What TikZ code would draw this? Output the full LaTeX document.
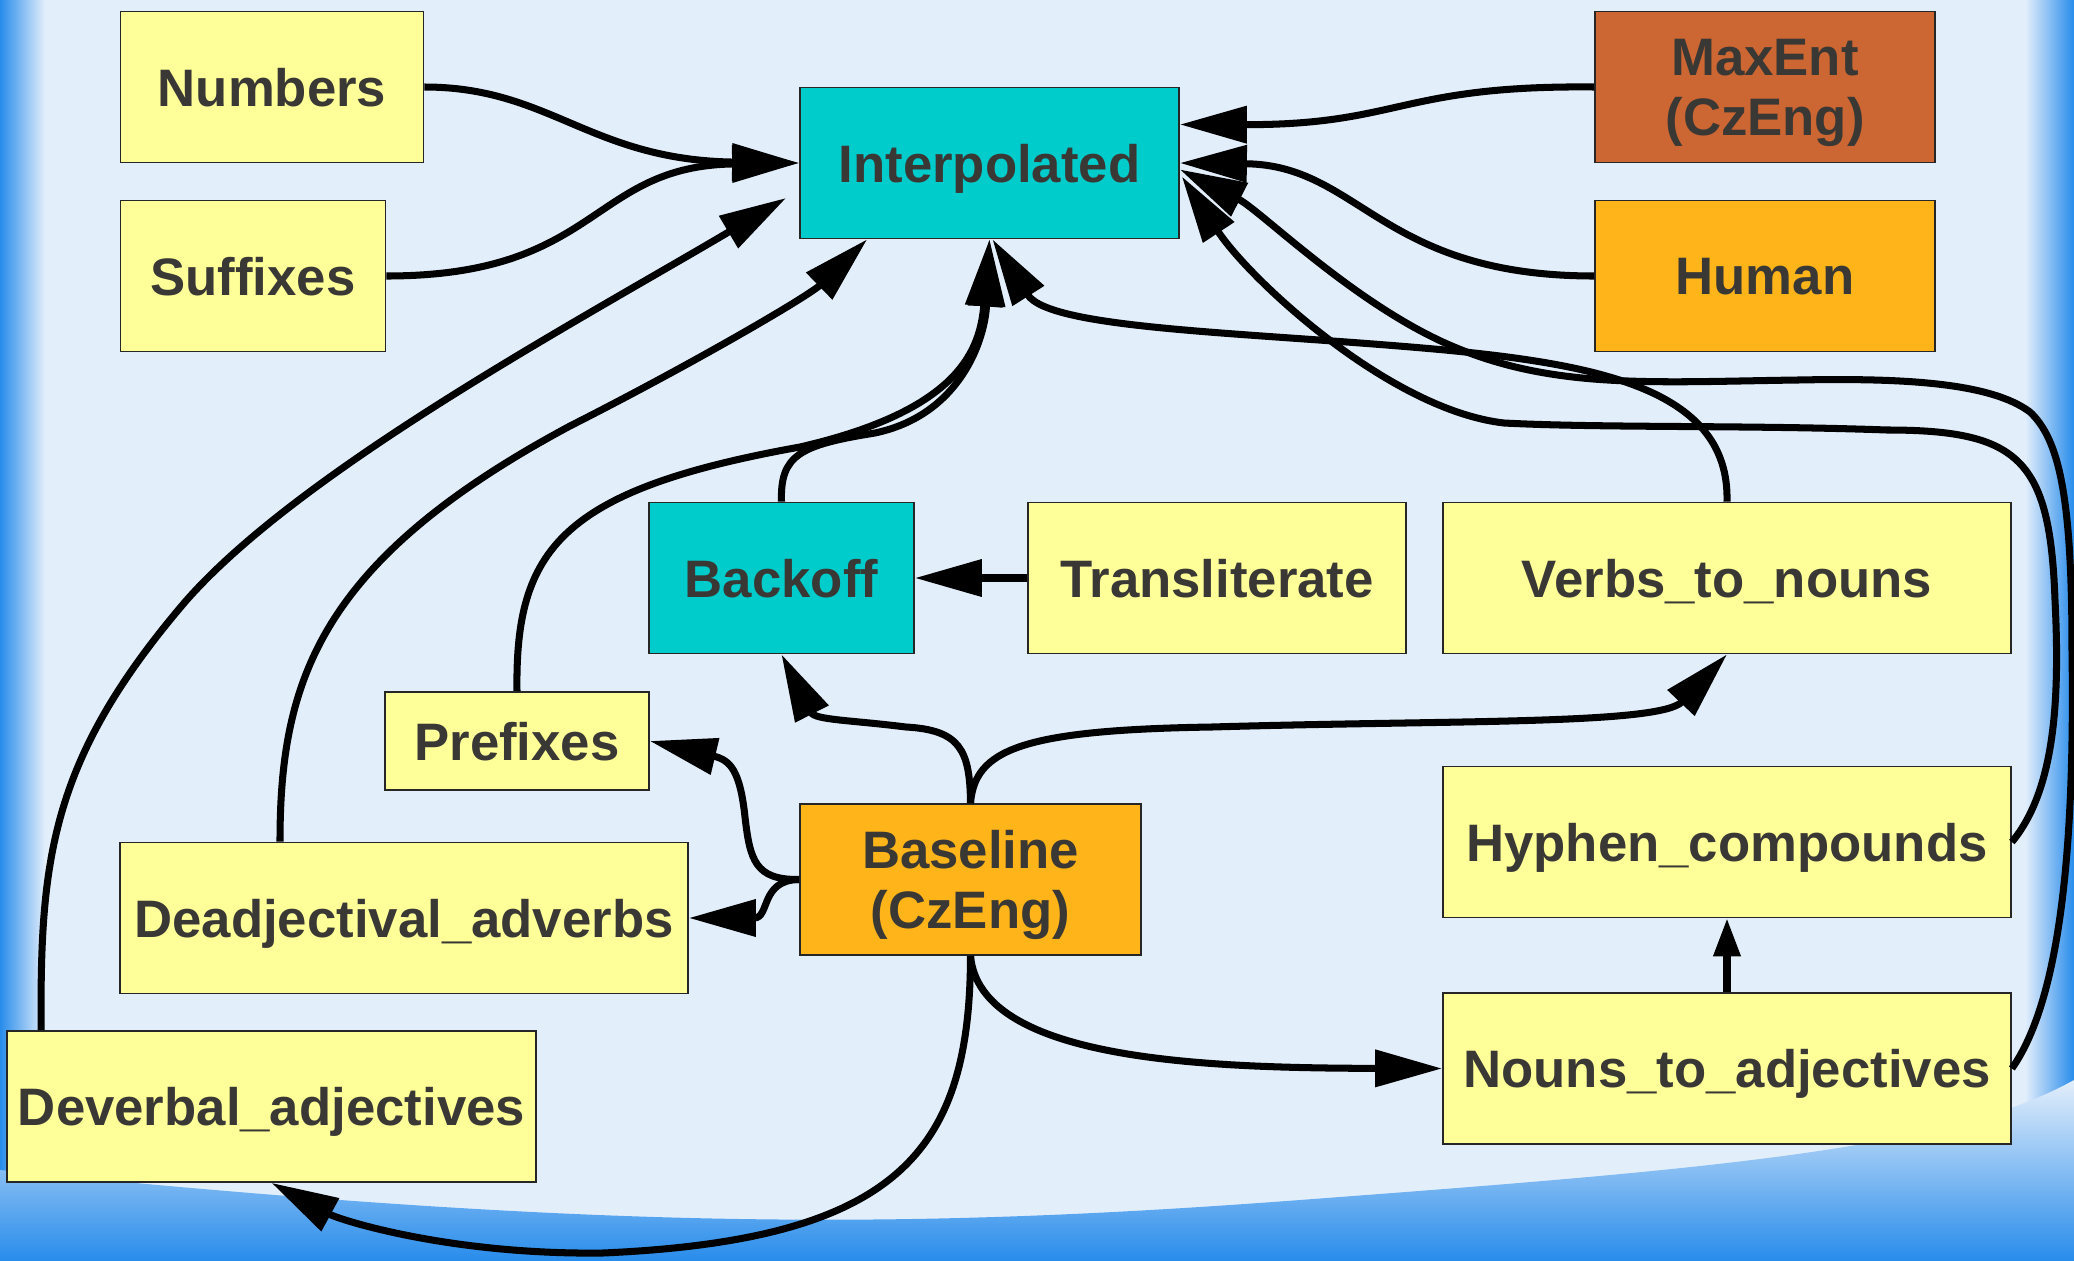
\documentclass[tikz,border=0pt]{standalone}
\usepackage{fontspec}
\setmainfont{Liberation Sans}
\usetikzlibrary{arrows.meta}

\definecolor{bgblue}{RGB}{227,238,251}
\definecolor{edgeblue}{RGB}{40,140,235}
\definecolor{boxyellow}{RGB}{255,255,153}
\definecolor{boxcyan}{RGB}{0,204,204}
\definecolor{boxbrown}{RGB}{204,102,51}
\definecolor{boxorange}{RGB}{255,180,25}
\definecolor{labelgray}{RGB}{58,56,52}

\begin{document}
\begin{tikzpicture}[
    box/.style={draw=black!85, line width=0.5pt, text=labelgray, inner sep=0pt, text depth=0pt,
        font=\fontsize{15}{17}\selectfont\bfseries, align=center, minimum height=1.51cm},
    flow/.style={line width=2pt, -{Triangle[length=0.67cm, width=0.36cm]}},
]
    \useasboundingbox (0,0) rectangle (20.74,-12.61);
    \fill[bgblue] (0,0) rectangle (20.74,-12.61);
    \shade[left color=edgeblue, right color=bgblue] (0,0) rectangle (0.45,-12.61);
    \shade[left color=bgblue, right color=edgeblue] (20.25,0) rectangle (20.74,-12.61);
    \shade[top color=bgblue, middle color=bgblue, bottom color=edgeblue] (0,-11.7) .. controls (6,-12.3) and (9,-12.3) .. (13,-12.0)
        .. controls (17,-11.7) and (19.5,-11.5) .. (20.74,-10.8) -- (20.74,-12.61) -- (0,-12.61) -- cycle;

    \node[box, fill=boxyellow, minimum width=3.03cm] (num) at (2.72,-0.87) {Numbers};
    \node[box, fill=boxyellow, minimum width=2.65cm] (suf) at (2.53,-2.76) {Suffixes};
    \node[box, fill=boxcyan, minimum width=3.79cm] (interp) at (9.895,-1.63) {Interpolated};
    \node[box, fill=boxbrown, minimum width=3.40cm] (maxent) at (17.65,-0.87) {MaxEnt\\(CzEng)};
    \node[box, fill=boxorange, minimum width=3.40cm] (human) at (17.65,-2.76) {Human};
    \node[box, fill=boxcyan, minimum width=2.65cm] (backoff) at (7.815,-5.78) {Backoff};
    \node[box, fill=boxyellow, minimum width=3.78cm] (translit) at (12.17,-5.78) {Transliterate};
    \node[box, fill=boxyellow, minimum width=5.68cm] (verbs) at (17.27,-5.78) {Verbs\_to\_nouns};
    \node[box, fill=boxyellow, minimum width=2.64cm, minimum height=0.98cm] (pref) at (5.17,-7.41) {Prefixes};
    \node[box, fill=boxorange, minimum width=3.41cm] (base) at (9.705,-8.795) {Baseline\\(CzEng)};
    \node[box, fill=boxyellow, minimum width=5.68cm] (hyph) at (17.27,-8.42) {Hyphen\_compounds};
    \node[box, fill=boxyellow, minimum width=5.68cm] (dadv) at (4.04,-9.18) {Deadjectival\_adverbs};
    \node[box, fill=boxyellow, minimum width=5.29cm] (dverb) at (2.715,-11.065) {Deverbal\_adjectives};
    \node[box, fill=boxyellow, minimum width=5.68cm] (nouns) at (17.27,-10.685) {Nouns\_to\_adjectives};

    % into Interpolated
    \draw[flow] (num.east) .. controls (5.5,-0.87) and (5.9,-1.6) .. (interp.west);
    \draw[flow] (suf.east) .. controls (6.0,-2.76) and (5.9,-1.66) .. (interp.west);
    \draw[flow] ([xshift=0.35cm]dverb.north west) .. controls (0.40,-8.6) and (0.5,-7.6) .. (1.85,-6.02)
        .. controls (3.0,-4.7) and (5.8,-3.2) .. ([shift={(-0.13,-0.35)}]interp.west);
    \draw[flow] ([xshift=-1.24cm]dadv.north) .. controls (2.8,-6.8) and (3.2,-5.6) .. (5.7,-4.26)
        .. controls (7.0,-3.6) and (8.1,-2.95) .. ([xshift=0.68cm]interp.south west);
    \draw[flow] (pref.north) .. controls (5.15,-5.5) and (5.6,-4.9) .. (8.0,-4.47)
        .. controls (9.6,-4.1) and (9.8,-3.5) .. (interp.south);
    \draw[flow] (backoff.north) .. controls (7.8,-4.55) and (8.0,-4.45) .. (8.75,-4.33)
        .. controls (9.6,-4.15) and (9.85,-3.4) .. (interp.south);
    \draw[flow] (verbs.north) .. controls (17.3,-3.9) and (16.0,-3.65) .. (14.45,-3.50)
        .. controls (12.5,-3.32) and (10.5,-3.3) .. ([xshift=0.03cm]interp.south);
    \draw[flow] (maxent.west) .. controls (14.0,-0.85) and (14.0,-1.25) .. ([yshift=0.385cm]interp.east);
    \draw[flow] (human.west) .. controls (13.8,-2.76) and (13.6,-1.65) .. (interp.east);
    \draw[flow] (nouns.east) .. controls (20.6,-10.0) and (20.75,-8.5) .. (20.72,-6.5)
        .. controls (20.72,-5.0) and (20.6,-4.4) .. (20.3,-4.12)
        .. controls (19.9,-3.82) and (19.0,-3.78) .. (17.98,-3.80)
        .. controls (16.5,-3.82) and (15.5,-3.9) .. (14.45,-3.43)
        .. controls (13.5,-3.0) and (12.6,-2.1) .. ([yshift=-0.065cm]interp.east);
    \draw[flow] (hyph.east) .. controls (20.55,-7.9) and (20.6,-7.0) .. (20.55,-6.0)
        .. controls (20.5,-4.6) and (20.2,-4.3) .. (18.87,-4.30)
        .. controls (17.5,-4.25) and (16.0,-4.28) .. (15.04,-4.23)
        .. controls (13.9,-4.1) and (12.5,-2.8) .. ([shift={(0.02,-0.135)}]interp.east);

    % out of Baseline
    \draw[flow] (translit.west) -- (backoff.east);
    \draw[flow] (base.north) .. controls (9.7,-7.5) and (9.6,-7.3) .. (9.06,-7.27)
        .. controls (8.5,-7.2) and (8.15,-7.2) .. (backoff.south);
    \draw[flow] (base.north) .. controls (9.75,-7.5) and (10.2,-7.3) .. (12.12,-7.27)
        .. controls (14.5,-7.2) and (16.6,-7.25) .. (verbs.south);
    \draw[flow] (base.west) .. controls (7.55,-8.8) and (7.5,-8.6) .. (7.45,-8.17)
        .. controls (7.4,-7.7) and (7.3,-7.6) .. (pref.east);
    \draw[flow] (base.west) .. controls (7.6,-8.8) and (7.7,-9.18) .. (dadv.east);
    \draw[flow] (base.south) .. controls (9.7,-11.5) and (9.0,-12.4) .. (6.03,-12.53)
        .. controls (4.5,-12.55) and (3.4,-12.2) .. (dverb.south);
    \draw[flow] (base.south) .. controls (9.8,-10.6) and (12.0,-10.68) .. (nouns.west);
    \draw[line width=2pt, -{Triangle[length=0.38cm, width=0.26cm]}] (nouns.north) -- (hyph.south);
\end{tikzpicture}
\end{document}
